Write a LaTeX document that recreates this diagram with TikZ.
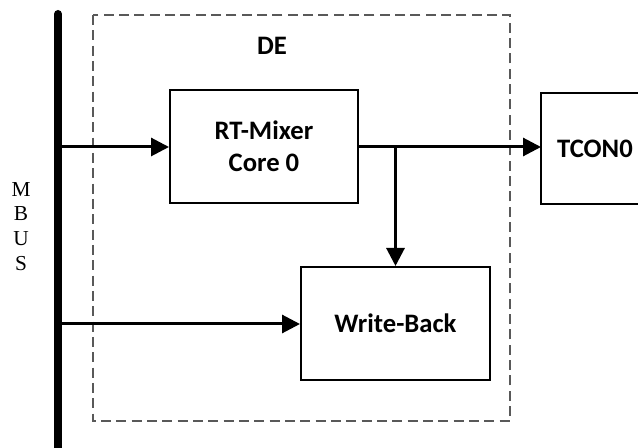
\documentclass[tikz,border=0pt]{standalone}
\usepackage{fontspec}
\setmainfont{Carlito}
\newfontfamily\busfont{Liberation Serif}
\usetikzlibrary{arrows.meta}
\begin{document}
\begin{tikzpicture}[x=0.75pt,y=-0.75pt,
  blk/.style={draw=black,line width=1.5pt,rectangle,inner sep=0pt,align=center,
    font=\fontsize{20}{24}\selectfont\bfseries},
  conn/.style={line width=2.25pt,-{Triangle[length=13.5pt,width=13.5pt]}},
  buslet/.style={font=\busfont\fontsize{16}{18}\selectfont,inner sep=0pt}]
\useasboundingbox (0,0) rectangle (638,448);
% dashed DE boundary
\draw[black!65,line width=1pt,dash pattern=on 7.5pt off 4pt] (93,15) rectangle (510,421);
\node[font=\fontsize{20}{24}\selectfont\bfseries] (de) at (272,46) {DE};
% bus
\coordinate (bustop) at (58,14);
\coordinate (busbot) at (58,470);
\draw[line width=6pt,line cap=round] (bustop) -- (busbot);
\node[buslet] (bm) at (21,190) {M};
\node[buslet] (bb) at (21,214) {B};
\node[buslet] (bu) at (21,239) {U};
\node[buslet] (bs) at (21,264) {S};
% blocks
\node[blk,minimum width=141pt,minimum height=84.75pt] (rt) at (264,146.5) {RT-Mixer\\Core 0};
\node[blk,draw=none,minimum width=79.5pt,minimum height=81.75pt] (tcon) at (595,148.5) {TCON0};
\draw[line width=1.5pt] ([xshift=120pt]tcon.north west) -- (tcon.north west) -- (tcon.south west) -- ([xshift=120pt]tcon.south west);
\node[blk,minimum width=141.75pt,minimum height=84.75pt] (wb) at (395.5,323.5) {Write-Back};
% connectors
\coordinate (m1) at (58,147);
\coordinate (m2) at (58,324);
\coordinate (j) at (395.5,147);
\draw[conn] (m1) -- (rt.west |- m1);
\draw[conn] (rt.east |- j) -- (tcon.west |- j);
\draw[conn] (j) -- (wb.north);
\draw[conn] (m2) -- (wb.west |- m2);
\end{tikzpicture}
\end{document}
